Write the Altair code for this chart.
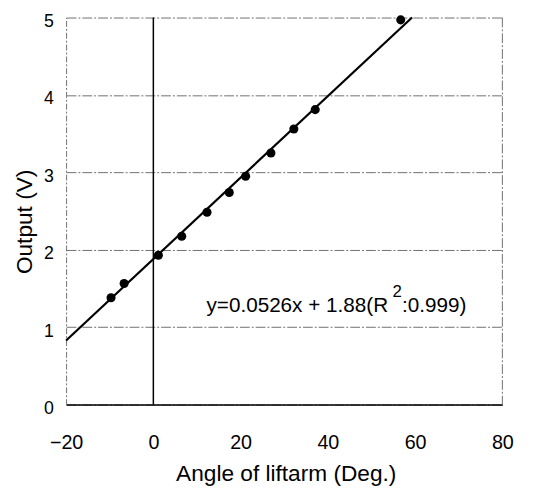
import altair as alt
import pandas as pd

# Measured data points (angle in degrees, output in volts)
angle = [-9.7, -6.7, 1.15, 6.5, 12.3, 17.4, 21.15, 26.95, 32.2, 37.1, 56.7]
output = [1.38, 1.565, 1.93, 2.175, 2.485, 2.74, 2.95, 3.25, 3.56, 3.81, 4.97]

# Fitted line end points (y = 0.0526x + 1.88)
fit_x = [-20, 59.3]
fit_y = [0.828, 5.0]

x_ticks = [-20, 0, 20, 40, 60, 80]
y_ticks = [0, 1, 2, 3, 4, 5]

eq_main = "y=0.0526x + 1.88(R"
eq_sup = "2"
eq_tail = ":0.999)"

pts = pd.DataFrame({"x": angle, "y": output})
fit = pd.DataFrame({"x": fit_x, "y": fit_y})

FONT = "Liberation Sans, Arial, sans-serif"
GRID = "#707070"
DASH = [10, 2, 2, 2]

xs = alt.Scale(domain=[-20, 80], nice=False, zero=False)
ys = alt.Scale(domain=[0, 5], nice=False, zero=False)

xaxis = alt.Axis(
    values=x_ticks, title="Angle of liftarm (Deg.)", grid=False, ticks=False,
    domainColor="black", domainWidth=1.5,
    labelFont=FONT, labelFontSize=20, labelColor="black", labelPadding=29,
    labelFlush=False,
    titleFont=FONT, titleFontSize=23, titleFontWeight="normal", titleColor="black",
    titleX=223, titleY=77, titleBaseline="alphabetic",
)
yaxis = alt.Axis(
    values=y_ticks, title="Output (V)", grid=True, gridColor=GRID, gridDash=DASH,
    gridWidth=1, ticks=False, domainColor=GRID, domainDash=[6, 2, 2, 2],
    labelFont=FONT, labelFontSize=18, labelColor="black", labelPadding=13,
    labelOffset=4, labelFlush=False,
    titleFont=FONT, titleFontSize=23, titleFontWeight="normal", titleColor="black",
    titleX=-35, titleY=207, titleAngle=270, titleBaseline="alphabetic",
    titleAlign="center",
)

X = alt.X("x:Q", scale=xs, axis=xaxis)
Y = alt.Y("y:Q", scale=ys, axis=yaxis)

right_border = alt.Chart(pd.DataFrame({"x": [80]})).mark_rule(
    color=GRID, strokeDash=DASH, strokeWidth=1
).encode(x=alt.X("x:Q", scale=xs, axis=xaxis))

zero_line = alt.Chart(pd.DataFrame({"x": [0]})).mark_rule(
    color="black", strokeWidth=1.5
).encode(x=alt.X("x:Q", scale=xs, axis=xaxis))

line = alt.Chart(fit).mark_line(color="black", strokeWidth=2.2).encode(x=X, y=Y)

points = alt.Chart(pts).mark_point(
    filled=True, shape="circle", size=85, color="black", opacity=1
).encode(x=X, y=Y)

t1 = alt.Chart(pd.DataFrame({"x": [53.8], "y": [1.2], "t": [eq_main]})).mark_text(
    font=FONT, fontSize=21, align="right", baseline="alphabetic", color="black"
).encode(x=X, y=Y, text="t:N")
t2 = alt.Chart(pd.DataFrame({"x": [54.8], "y": [1.39], "t": [eq_sup]})).mark_text(
    font=FONT, fontSize=17, align="left", baseline="alphabetic", color="black"
).encode(x=X, y=Y, text="t:N")
t3 = alt.Chart(pd.DataFrame({"x": [57.0], "y": [1.2], "t": [eq_tail]})).mark_text(
    font=FONT, fontSize=21, align="left", baseline="alphabetic", color="black"
).encode(x=X, y=Y, text="t:N")

chart = alt.layer(right_border, zero_line, line, points, t1, t2, t3).properties(
    width=443, height=393,
    autosize=alt.AutoSizeParams(type="none"),
    padding={"left": 59, "top": 6, "right": 24, "bottom": 80},
    background="white",
).configure_view(stroke=None)

chart.save("out.html", embed_options={"renderer": "svg", "actions": False})
